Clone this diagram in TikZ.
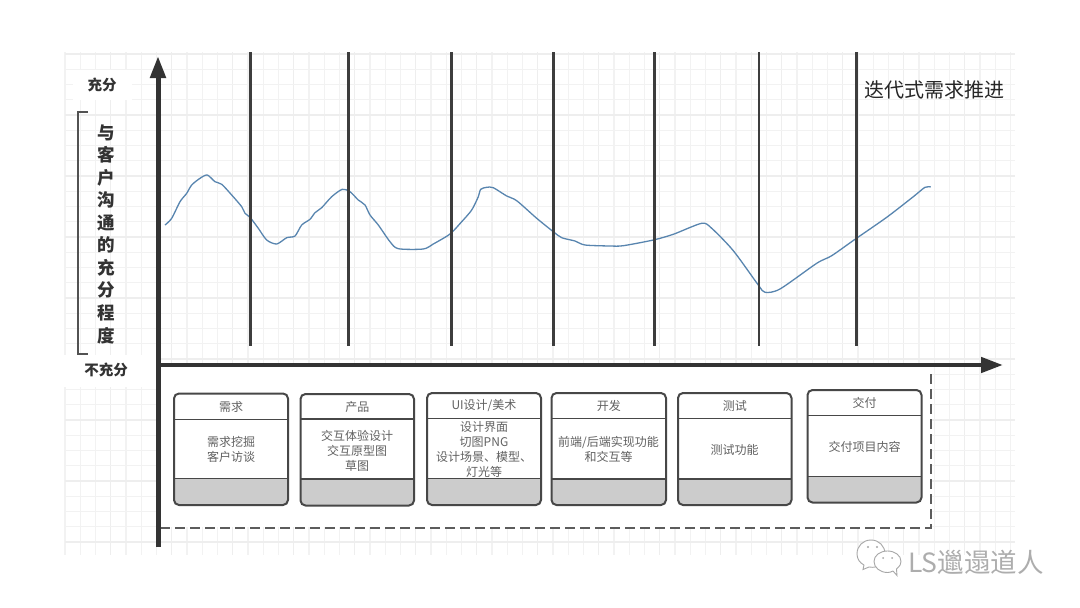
\documentclass[tikz,border=0pt]{standalone}
\usepackage{fontspec}
\setmainfont{Noto Sans CJK SC}
\usetikzlibrary{arrows.meta}
\definecolor{ink}{gray}{0.2}
\definecolor{boxtext}{gray}{0.38}
\definecolor{gridminor}{gray}{0.95}
\definecolor{gridmajor}{gray}{0.935}
\definecolor{curveblue}{RGB}{88,133,175}
\definecolor{boxgray}{gray}{0.8}
\tikzset{
  minorline/.style={draw=gridminor,line width=1.2pt},
  majorline/.style={draw=gridmajor,line width=1.3pt},
  axisline/.style={draw=ink,line width=5pt,-{Triangle[length=22pt,width=15pt]}},
  phaseline/.style={draw=ink!95,line width=2.5pt},
  boxframe/.style={draw=ink!90,line width=2pt,rounded corners=5pt},
  boxrule/.style={draw=ink!90,line width=1.7pt},
  boxlabel/.style={text=boxtext,align=center,inner sep=0pt,font=\fontsize{12}{15}\selectfont},
  axislabel/.style={text=ink,inner sep=0pt,font=\bfseries\fontsize{14.5}{18}\selectfont},
  bubble/.style={draw=gray!70,fill=white,line width=0.9pt},
}
% name, x1, y1, x2, y2, divider 1, divider 2, title
\newcommand{\stagebox}[8]{%
  \fill[boxgray,rounded corners=5pt] (#2,#7) -- (#4,#7) -- (#4,#5) -- (#2,#5) -- cycle;
  \fill[boxgray] (#2,#7) rectangle (#4,#7+6);
  \fill[white] (#2+1,#3+1) rectangle (#4-1,#7);
  \draw[boxframe] (#2,#3) rectangle (#4,#5);
  \coordinate (#1l1) at (#2,#6); \coordinate (#1r1) at (#4,#6);
  \coordinate (#1l2) at (#2,#7); \coordinate (#1r2) at (#4,#7);
  \draw[boxrule] (#1l1) -- (#1r1);
  \draw[boxrule] (#1l2) -- (#1r2);
  \node[boxlabel] (#1t) at ({(#2+#4)/2},{(#3+#6)/2}) {#8};
}
\begin{document}
\begin{tikzpicture}[x=1pt,y=-1pt]
\useasboundingbox (0,0) rectangle (1080,608);
\fill[white] (0,0) rectangle (1080,608);
% grid
\foreach \k in {0,...,62}{
  \pgfmathtruncatemacro{\m}{mod(\k,4)}
  \ifnum\m=3 \draw[majorline] ({65+15.25*\k},52) -- ({65+15.25*\k},555);
  \else \draw[minorline] ({65+15.25*\k},52) -- ({65+15.25*\k},555); \fi
}
\foreach \k in {0,...,32}{
  \pgfmathtruncatemacro{\m}{mod(\k,4)}
  \ifnum\m=0 \draw[majorline] (65,{54+15.25*\k}) -- (1015,{54+15.25*\k});
  \else \draw[minorline] (65,{54+15.25*\k}) -- (1015,{54+15.25*\k}); \fi
}
% clear areas
\fill[white] (73,70) rectangle (132,100);
\fill[white] (60,355) rectangle (156,387);
\fill[white] (160,367) rectangle (932,527);
% curve
\draw[curveblue,line width=1.3pt,line join=round] plot[smooth,tension=0.45] coordinates {
(165,225)(171.7,218.3)(180,201.7)(186.7,193.3)(191.7,185)(200,178.3)(207.3,175)(215,181.7)(221.7,184.3)(231.7,195)(241.7,206.7)(245,213.3)(250,217.3)(258.3,228.3)(266.7,240)(276.7,244)(286.7,237.7)(295,236)(301.7,225)(310,219.3)(315,212.7)(321.7,207.7)(331.7,196.7)(342.3,189.3)(350,191.7)(358.3,200)(365,205)(370,215)(378.3,225)(390,241.7)(398.3,248.7)(423.3,249)(433.3,244)(450,234)(461.7,221.7)(471.7,210)(478.3,196.7)(480.7,189.3)(486.7,187.3)(493.3,187.7)(506.7,196)(516.7,200.7)(536.7,218.3)(553.3,231.7)(561.7,237.7)(575,241)(585,245)(610,246)(623.3,245.7)(653.3,240)(673.3,234.3)(701.7,223.3)(711.7,228.3)(733.3,250.7)(758.3,285)(765,292.3)(780,289)(816.7,263.3)(831.7,255.7)(855,239.3)(886.7,217.3)(913.3,196.7)(925,187.3)(930.7,187)};
% phase lines
\foreach \n/\x in {a/250.5,b/348.5,c/451.5,d/553.5,e/654.5,f/759,g/856.5}{
  \coordinate (top\n) at (\x,52);
  \coordinate (bot\n) at (\x,346);
  \draw[phaseline] (top\n) -- (bot\n);
}
% dashed frame
\coordinate (dashA) at (160,527.5);
\coordinate (dashB) at (931,527.5);
\coordinate (dashC) at (931,370);
\draw[draw=ink!80,line width=2pt,dash pattern=on 10pt off 5pt] (dashA) -- (dashB) -- (dashC);
% axes
\coordinate (ybot) at (158,547);
\coordinate (ytop) at (158,56);
\coordinate (xleft) at (156,365);
\coordinate (xright) at (1003,365);
\draw[axisline] (ybot) -- (ytop);
\draw[axisline,line width=4.5pt] (xleft) -- (xright);
% bracket
\coordinate (brA) at (88,112);
\coordinate (brB) at (78,112);
\coordinate (brC) at (78,354);
\coordinate (brD) at (88,354);
\draw[draw=ink!85,line width=1.7pt] (brA) -- (brB) -- (brC) -- (brD);
% axis labels
\node[axislabel] (full) at (102,85) {充分};
\node[axislabel] (none) at (106,370) {不充分};
\node[text=ink,inner sep=0pt,align=center,font=\bfseries\fontsize{17.5}{22.55}\selectfont] (ylabel) at (106,234) {与\\客\\户\\沟\\通\\的\\充\\分\\程\\度};
\node[text=black!85,inner sep=0pt,font=\fontsize{20}{24}\selectfont] (iter) at (934.5,90) {迭代式需求推进};
% stage boxes
\stagebox{s1}{174}{393.5}{288}{505}{419.5}{478.5}{需求}
\node[boxlabel] (s1b) at (231,449.5) {需求挖掘\\客户访谈};
\stagebox{s2}{300.5}{394}{414}{505.5}{419}{479}{产品}
\node[boxlabel] (s2b) at (357,450.5) {交互体验设计\\交互原型图\\草图};
\stagebox{s3}{427}{393}{541}{505}{418.5}{478.5}{UI设计/美术}
\node[boxlabel] (s3b) at (484,449.5) {设计界面\\切图PNG\\设计场景、模型、\\灯光等};
\stagebox{s4}{551.5}{393}{666}{505}{418.5}{479}{开发}
\node[boxlabel] (s4b) at (608.5,449.5) {前端/后端实现功能\\和交互等};
\stagebox{s5}{678}{393}{791.5}{505}{418.5}{479}{测试}
\node[boxlabel] (s5b) at (734.5,449.5) {测试功能};
\stagebox{s6}{807.5}{390}{921.5}{502.5}{415.5}{476.5}{交付}
\node[boxlabel] (s6b) at (864.5,446.5) {交付项目内容};
% watermark
\draw[bubble] (864,565) -- (863,569.5) -- (869,567) .. controls (880,569) and (885,561) .. (885,554) .. controls (885,546) and (879,540) .. (871,540) .. controls (863,540) and (857,546) .. (857,554) .. controls (857,559) and (860,563) .. (864,565);
\draw[bubble] (893,571) -- (897,575.5) -- (896.5,569) .. controls (900,566) and (901,564) .. (901,561.5) .. controls (901,555.5) and (895,551) .. (887.5,551) .. controls (880,551) and (874,555.5) .. (874,561.5) .. controls (874,567.5) and (880,572.5) .. (887.5,572.5) .. controls (889.5,572.5) and (891,572) .. (893,571);
\fill[gray!70] (868,547) circle (1.1) (877,547) circle (1.1) (883,558) circle (1) (892,558) circle (1);
\node[text=black!32,inner sep=0pt,anchor=west,font=\fontsize{26.5}{28}\selectfont] (mark) at (908,562) {LS邋遢道人};
\end{tikzpicture}
\end{document}
